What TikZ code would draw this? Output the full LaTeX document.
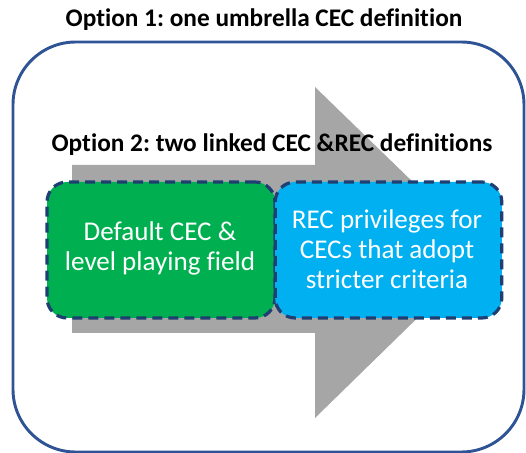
\documentclass[tikz,border=0pt]{standalone}
\usepackage{fontspec}
\setmainfont{Carlito}[Ligatures=NoCommon]
\frenchspacing
\definecolor{frameblue}{HTML}{2F5496}
\definecolor{dashblue}{HTML}{1F3F73}
\definecolor{arrowgray}{HTML}{A6A6A6}
\definecolor{cecgreen}{HTML}{00B050}
\definecolor{recblue}{HTML}{00B0F0}
\begin{document}
\begin{tikzpicture}[x=0.75pt,y=-0.75pt,
  titletext/.style={font=\bfseries\fontsize{19}{22}\selectfont, text=black, inner sep=0pt},
  defbox/.style={draw=dashblue, line width=2.4pt, dash pattern=on 7.5pt off 4.5pt, rounded corners=15pt, minimum width=170pt, minimum height=102pt, inner sep=0pt},
  boxtext/.style={text=white, align=center, font=\fontsize{20.3}{22.5}\selectfont}]
\useasboundingbox (0,0) rectangle (526,453);
% outer frame
\draw[frameblue, line width=2.2pt, rounded corners=47pt] (13,42) rectangle (524,452);
\node[titletext] (t1) at (264,20) {Option 1: one umbrella CEC definition};
% arrow
\fill[arrowgray] (72,165) -- (315,165) -- (315,87) -- (485,252) -- (315,418) -- (315,333) -- (72,333) -- cycle;
\node[titletext] (t2) at (272,145) {Option 2: two linked CEC \&REC definitions};
% boxes
\node[defbox, fill=cecgreen, minimum width=171pt] (g) at (161,250) {};
\node[defbox, fill=recblue, minimum width=170pt] (b) at (388.5,250) {};
\node[boxtext] at (160,248) {Default CEC \&\\level playing field};
\node[boxtext] at (387,249) {REC privileges for\\CECs that adopt\\stricter criteria};
\end{tikzpicture}
\end{document}
